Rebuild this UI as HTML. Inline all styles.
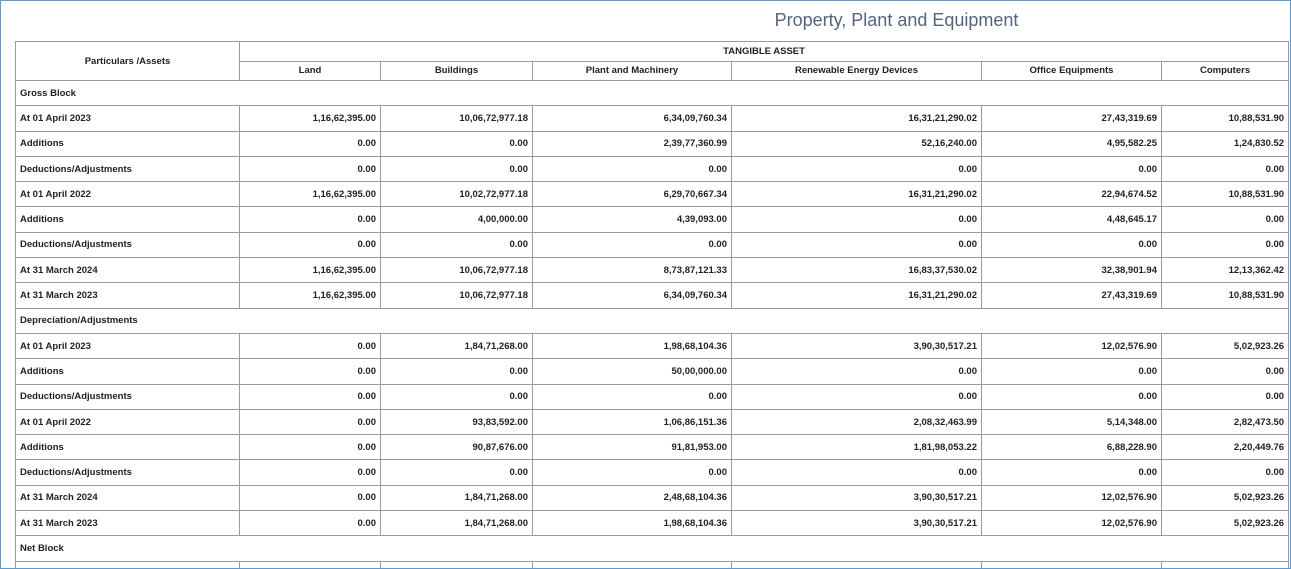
<!DOCTYPE html>
<html><head><meta charset="utf-8"><style>
html,body{margin:0;padding:0;background:#fff}
#f{position:absolute;left:0;top:0;width:1289px;height:567px;border:1px solid #5b9bd5;overflow:hidden;background:#fff}
h1{position:absolute;left:0;top:9px;width:1291px;padding-left:500px;box-sizing:border-box;text-align:center;margin:0;font:18px "Liberation Sans",sans-serif;color:#56637f;}
table{position:absolute;left:14px;top:40px;border-collapse:collapse;table-layout:fixed;width:1273px;font:bold 9.5px "Liberation Sans",sans-serif;color:#222}
td{border:1px solid #9a9a9a;padding:0 4px;height:24.3px;white-space:nowrap;overflow:hidden}
td.n{text-align:right}
tr.h td{text-align:center;height:18.5px}
tr.s td{height:24.3px}
</style></head><body><div id="f">
<h1>Property, Plant and Equipment</h1>
<table>
<colgroup><col style="width:224px"><col style="width:141px"><col style="width:152px"><col style="width:199px"><col style="width:250px"><col style="width:180px"><col style="width:127px"></colgroup>
<tr class="h"><td rowspan="2" style="height:38px">Particulars /Assets</td><td colspan="6">TANGIBLE ASSET</td></tr>
<tr class="h"><td>Land</td><td>Buildings</td><td>Plant and Machinery</td><td>Renewable Energy Devices</td><td>Office Equipments</td><td>Computers</td></tr>
<tr class="s"><td colspan="7">Gross Block</td></tr>
<tr><td>At 01 April 2023</td><td class="n">1,16,62,395.00</td><td class="n">10,06,72,977.18</td><td class="n">6,34,09,760.34</td><td class="n">16,31,21,290.02</td><td class="n">27,43,319.69</td><td class="n">10,88,531.90</td></tr>
<tr><td>Additions</td><td class="n">0.00</td><td class="n">0.00</td><td class="n">2,39,77,360.99</td><td class="n">52,16,240.00</td><td class="n">4,95,582.25</td><td class="n">1,24,830.52</td></tr>
<tr><td>Deductions/Adjustments</td><td class="n">0.00</td><td class="n">0.00</td><td class="n">0.00</td><td class="n">0.00</td><td class="n">0.00</td><td class="n">0.00</td></tr>
<tr><td>At 01 April 2022</td><td class="n">1,16,62,395.00</td><td class="n">10,02,72,977.18</td><td class="n">6,29,70,667.34</td><td class="n">16,31,21,290.02</td><td class="n">22,94,674.52</td><td class="n">10,88,531.90</td></tr>
<tr><td>Additions</td><td class="n">0.00</td><td class="n">4,00,000.00</td><td class="n">4,39,093.00</td><td class="n">0.00</td><td class="n">4,48,645.17</td><td class="n">0.00</td></tr>
<tr><td>Deductions/Adjustments</td><td class="n">0.00</td><td class="n">0.00</td><td class="n">0.00</td><td class="n">0.00</td><td class="n">0.00</td><td class="n">0.00</td></tr>
<tr><td>At 31 March 2024</td><td class="n">1,16,62,395.00</td><td class="n">10,06,72,977.18</td><td class="n">8,73,87,121.33</td><td class="n">16,83,37,530.02</td><td class="n">32,38,901.94</td><td class="n">12,13,362.42</td></tr>
<tr><td>At 31 March 2023</td><td class="n">1,16,62,395.00</td><td class="n">10,06,72,977.18</td><td class="n">6,34,09,760.34</td><td class="n">16,31,21,290.02</td><td class="n">27,43,319.69</td><td class="n">10,88,531.90</td></tr>
<tr class="s"><td colspan="7">Depreciation/Adjustments</td></tr>
<tr><td>At 01 April 2023</td><td class="n">0.00</td><td class="n">1,84,71,268.00</td><td class="n">1,98,68,104.36</td><td class="n">3,90,30,517.21</td><td class="n">12,02,576.90</td><td class="n">5,02,923.26</td></tr>
<tr><td>Additions</td><td class="n">0.00</td><td class="n">0.00</td><td class="n">50,00,000.00</td><td class="n">0.00</td><td class="n">0.00</td><td class="n">0.00</td></tr>
<tr><td>Deductions/Adjustments</td><td class="n">0.00</td><td class="n">0.00</td><td class="n">0.00</td><td class="n">0.00</td><td class="n">0.00</td><td class="n">0.00</td></tr>
<tr><td>At 01 April 2022</td><td class="n">0.00</td><td class="n">93,83,592.00</td><td class="n">1,06,86,151.36</td><td class="n">2,08,32,463.99</td><td class="n">5,14,348.00</td><td class="n">2,82,473.50</td></tr>
<tr><td>Additions</td><td class="n">0.00</td><td class="n">90,87,676.00</td><td class="n">91,81,953.00</td><td class="n">1,81,98,053.22</td><td class="n">6,88,228.90</td><td class="n">2,20,449.76</td></tr>
<tr><td>Deductions/Adjustments</td><td class="n">0.00</td><td class="n">0.00</td><td class="n">0.00</td><td class="n">0.00</td><td class="n">0.00</td><td class="n">0.00</td></tr>
<tr><td>At 31 March 2024</td><td class="n">0.00</td><td class="n">1,84,71,268.00</td><td class="n">2,48,68,104.36</td><td class="n">3,90,30,517.21</td><td class="n">12,02,576.90</td><td class="n">5,02,923.26</td></tr>
<tr><td>At 31 March 2023</td><td class="n">0.00</td><td class="n">1,84,71,268.00</td><td class="n">1,98,68,104.36</td><td class="n">3,90,30,517.21</td><td class="n">12,02,576.90</td><td class="n">5,02,923.26</td></tr>
<tr class="s"><td colspan="7">Net Block</td></tr>
<tr><td>&nbsp;</td><td></td><td></td><td></td><td></td><td></td><td></td></tr>
</table>
</div></body></html>
